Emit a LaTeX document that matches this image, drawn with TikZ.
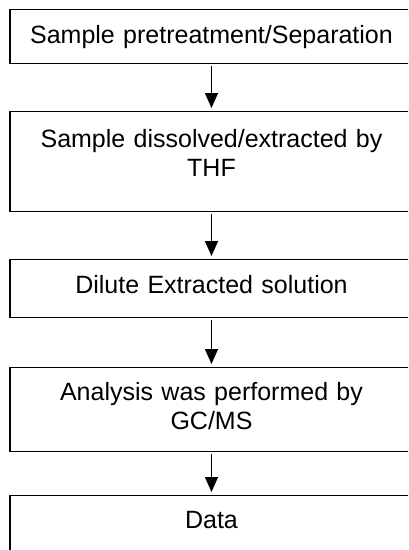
\documentclass[tikz,border=0pt]{standalone}
\usepackage{fontspec}
\setmainfont{Liberation Sans}
\usetikzlibrary{arrows.meta}
\begin{document}
\begin{tikzpicture}[x=1pt,y=-1pt,
  box/.style={draw=black,line width=1.2pt,anchor=north,inner xsep=0pt,inner ysep=0pt,
    text width=403pt,align=center,font=\fontsize{25}{29}\selectfont},
  arr/.style={line width=1.5pt,-{Triangle[length=15pt,width=13pt]},shorten <=2pt,shorten >=3pt}]
\useasboundingbox (0,0) rectangle (408,550);
\clip (0,0) rectangle (408,550);
\fill[white] (0,0) rectangle (408,550);
\node[box,text height=34pt,text depth=20pt] (b1) at (211.5,9) {Sample pretreatment/Separation};
\node[box,text height=36pt,text depth=64pt] (b2) at (211.5,111) {Sample dissolved/extracted by\\THF};
\node[box,text height=34pt,text depth=24pt] (b3) at (211.5,259) {Dilute Extracted solution};
\node[box,text height=33pt,text depth=51pt] (b4) at (211.5,367) {Analysis was performed by\\GC/MS};
\node[box,text height=33pt,text depth=50pt] (b5) at (211.5,495) {Data};
\draw[arr] (b1.south) -- (b2.north);
\draw[arr] (b2.south) -- (b3.north);
\draw[arr] (b3.south) -- (b4.north);
\draw[arr] (b4.south) -- (b5.north);
\end{tikzpicture}
\end{document}
